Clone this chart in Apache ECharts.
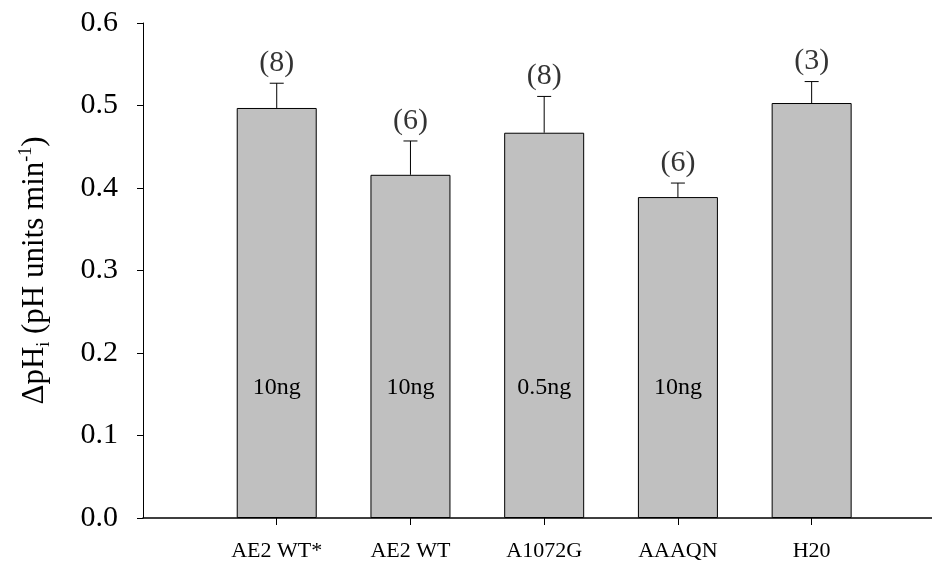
<!DOCTYPE html>
<html>
<head>
<meta charset="utf-8">
<script src="https://cdn.jsdelivr.net/npm/echarts@6/dist/echarts.min.js"></script>
<style>
html,body{margin:0;padding:0;background:#fff;}
#chart{width:932px;height:564px;}
</style>
</head>
<body>
<div id="chart"></div>
<script>
const categories = ['AE2 WT*', 'AE2 WT', 'A1072G', 'AAAQN', 'H20'];
const means = [0.497, 0.416, 0.467, 0.389, 0.503];
const sems = [0.030, 0.041, 0.044, 0.017, 0.026];
const nLabels = ['(8)', '(6)', '(8)', '(6)', '(3)'];
const doseLabels = ['10ng', '10ng', '0.5ng', '10ng', ''];
const positions = [1, 2, 3, 4, 5];

const FONT = '"Liberation Serif", "Times New Roman", serif';

const barData = positions.map((p, i) => ({ value: [p, means[i]], dose: doseLabels[i] }));
const errData = positions.map((p, i) => [p, means[i], means[i] + sems[i]]);
const nData = positions.map((p, i) => ({ value: [p, means[i] + sems[i]], n: nLabels[i] }));

const chart = echarts.init(document.getElementById('chart'));
chart.setOption({
  animation: false,
  grid: { left: 143, right: 0, top: 23, bottom: 46, containLabel: false, outerBoundsMode: 'none' },
  xAxis: {
    type: 'value', min: 0, max: 5.9,
    splitLine: { show: false },
    axisLine: { lineStyle: { color: '#000', width: 1.5 } },
    axisTick: { show: true, customValues: positions, length: 7, lineStyle: { color: '#000' } },
    axisLabel: {
      customValues: positions,
      formatter: v => categories[Math.round(v) - 1] || '',
      color: '#000', fontFamily: FONT, fontSize: 22, margin: 22
    }
  },
  yAxis: {
    type: 'value', min: 0, max: 0.6, interval: 0.1,
    splitLine: { show: false },
    axisLine: { show: true, lineStyle: { color: '#000', width: 1 } },
    axisTick: { show: true, length: 6, lineStyle: { color: '#000' } },
    axisLabel: { formatter: v => v.toFixed(1), color: '#000', fontFamily: FONT, fontSize: 30, margin: 25 },
    name: '{m|ΔpH}{sub|i}{m| (pH units min}{sup|-1}{m|)}',
    nameLocation: 'middle', nameRotate: 90, nameGap: 90,
    nameTextStyle: {
      color: '#000', fontFamily: FONT, fontSize: 31,
      rich: {
        m: { fontFamily: FONT, fontSize: 31, color: '#000', lineHeight: 36 },
        sub: { fontFamily: FONT, fontSize: 18, color: '#000', lineHeight: 13, verticalAlign: 'bottom' },
        sup: { fontFamily: FONT, fontSize: 18, color: '#000', lineHeight: 16, verticalAlign: 'top' }
      }
    }
  },
  series: [
    {
      type: 'bar', data: barData, barWidth: 80,
      itemStyle: { color: '#c0c0c0', borderColor: '#000', borderWidth: 1 },
      label: {
        show: true, position: 'insideBottom', distance: 118,
        formatter: p => p.data.dose,
        color: '#000', fontFamily: FONT, fontSize: 24
      },
      z: 2
    },
    {
      type: 'custom', data: errData, z: 3,
      renderItem: (params, api) => {
        const x = api.value(0);
        const lo = api.coord([x, api.value(1)]);
        const hi = api.coord([x, api.value(2)]);
        const hw = 7;
        return {
          type: 'group',
          children: [
            { type: 'line', shape: { x1: lo[0], y1: lo[1], x2: hi[0], y2: hi[1] }, style: { stroke: '#000', lineWidth: 1 } },
            { type: 'line', shape: { x1: hi[0] - hw, y1: hi[1], x2: hi[0] + hw, y2: hi[1] }, style: { stroke: '#000', lineWidth: 1 } }
          ]
        };
      }
    },
    {
      type: 'scatter', data: nData, symbolSize: 0, z: 4,
      label: {
        show: true, position: 'top', distance: 5,
        formatter: p => p.data.n,
        color: '#000', fontFamily: FONT, fontSize: 30
      }
    }
  ]
});
</script>
</body>
</html>
